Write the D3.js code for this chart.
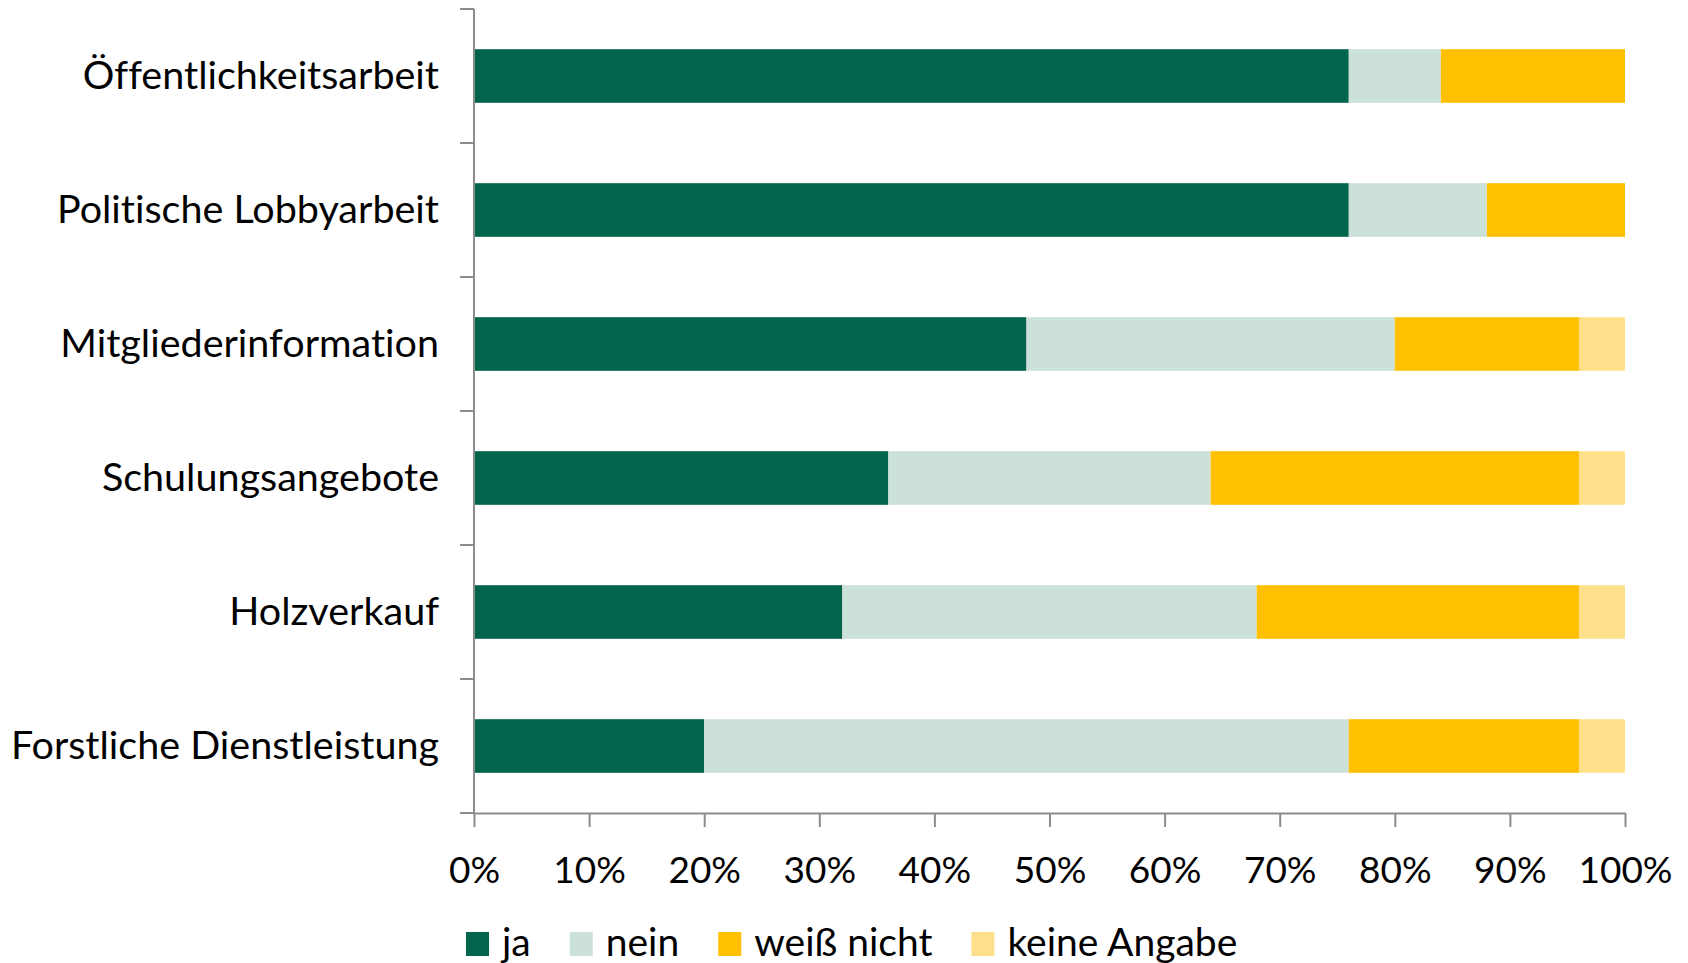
<!DOCTYPE html>
<html>
<head>
<meta charset="utf-8">
<script src="https://cdn.jsdelivr.net/npm/d3@7"></script>
<style>
  body { margin: 0; background: #fff; }
  svg { display: block; font-family: Lato, "Open Sans", sans-serif; font-variant-ligatures: none; }
</style>
</head>
<body>
<svg width="1688" height="963"></svg>
<script>
// categories, top to bottom
const categories = ["Öffentlichkeitsarbeit", "Politische Lobbyarbeit", "Mitgliederinformation",
  "Schulungsangebote", "Holzverkauf", "Forstliche Dienstleistung"];

// series values in percent, same order as categories
const seriesNames = ["ja", "nein", "weiß nicht", "keine Angabe"];
const ja         = [76, 76, 48, 36, 32, 20];
const nein       = [8, 12, 32, 28, 36, 56];
const weissNicht = [16, 12, 16, 32, 28, 20];
const keineAng   = [0, 0, 4, 4, 4, 4];

const xTicks = [0, 10, 20, 30, 40, 50, 60, 70, 80, 90, 100];

const colors = ["#00654a", "#cce1d9", "#ffc000", "#ffe08a"];

const rows = categories.map((c, i) => ({
  cat: c, "ja": ja[i], "nein": nein[i], "weiß nicht": weissNicht[i], "keine Angabe": keineAng[i]
}));

const plotLeft = 474, plotRight = 1625, plotTop = 9, plotBottom = 813;

const svg = d3.select("svg");

const x = d3.scaleLinear().domain([0, 100]).range([plotLeft, plotRight]);
const y = d3.scaleBand().domain(categories).range([plotTop, plotBottom]).paddingInner(0.6).paddingOuter(0.3);
const color = d3.scaleOrdinal(seriesNames, colors);

const series = d3.stack().keys(seriesNames)(rows);

// bars
svg.append("g")
  .selectAll("g")
  .data(series)
  .join("g")
  .attr("fill", d => color(d.key))
  .selectAll("rect")
  .data(d => d)
  .join("rect")
  .attr("x", d => x(d[0]))
  .attr("width", d => x(d[1]) - x(d[0]))
  .attr("y", d => y(d.data.cat))
  .attr("height", y.bandwidth());

const axisColor = "#8c8c8c";

// y axis: labels at band centres, ticks on band boundaries
const yAxis = svg.append("g")
  .attr("transform", `translate(${plotLeft},0)`)
  .call(d3.axisLeft(y).tickSize(0).tickPadding(35));
yAxis.select(".domain").remove();
yAxis.selectAll("text")
  .attr("font-size", 39.5)
  .attr("font-family", "Lato")
  .attr("fill", "#000");

const boundaries = categories.map(c => y(c) - y.step() * y.paddingOuter()).concat([plotBottom]);
svg.append("g")
  .selectAll("line")
  .data(boundaries)
  .join("line")
  .attr("x1", plotLeft - 14).attr("x2", plotLeft)
  .attr("y1", d => d).attr("y2", d => d)
  .attr("stroke", axisColor).attr("stroke-width", 2);

svg.append("line")
  .attr("x1", plotLeft).attr("x2", plotLeft)
  .attr("y1", plotTop).attr("y2", plotBottom)
  .attr("stroke", axisColor).attr("stroke-width", 2);

// x axis
const xAxis = svg.append("g")
  .attr("transform", `translate(0,${plotBottom})`)
  .call(d3.axisBottom(x).tickValues(xTicks).tickFormat(d => d + "%").tickSize(14).tickPadding(30).tickSizeOuter(0));
xAxis.select(".domain").attr("stroke", axisColor).attr("stroke-width", 2);
xAxis.selectAll(".tick line").attr("stroke", axisColor).attr("stroke-width", 2);
xAxis.selectAll("text")
  .attr("font-size", 37)
  .attr("font-family", "Lato")
  .attr("fill", "#000");

// legend
const legend = svg.append("g");
let lx = 466;
seriesNames.forEach(name => {
  const g = legend.append("g");
  g.append("rect")
    .attr("x", lx).attr("y", 932)
    .attr("width", 23).attr("height", 24)
    .attr("fill", color(name));
  const t = g.append("text")
    .attr("x", lx + 36).attr("y", 956)
    .attr("font-size", 39)
    .attr("font-family", "Lato")
    .text(name);
  lx += 36 + t.node().getComputedTextLength() + 39;
});
</script>
</body>
</html>
